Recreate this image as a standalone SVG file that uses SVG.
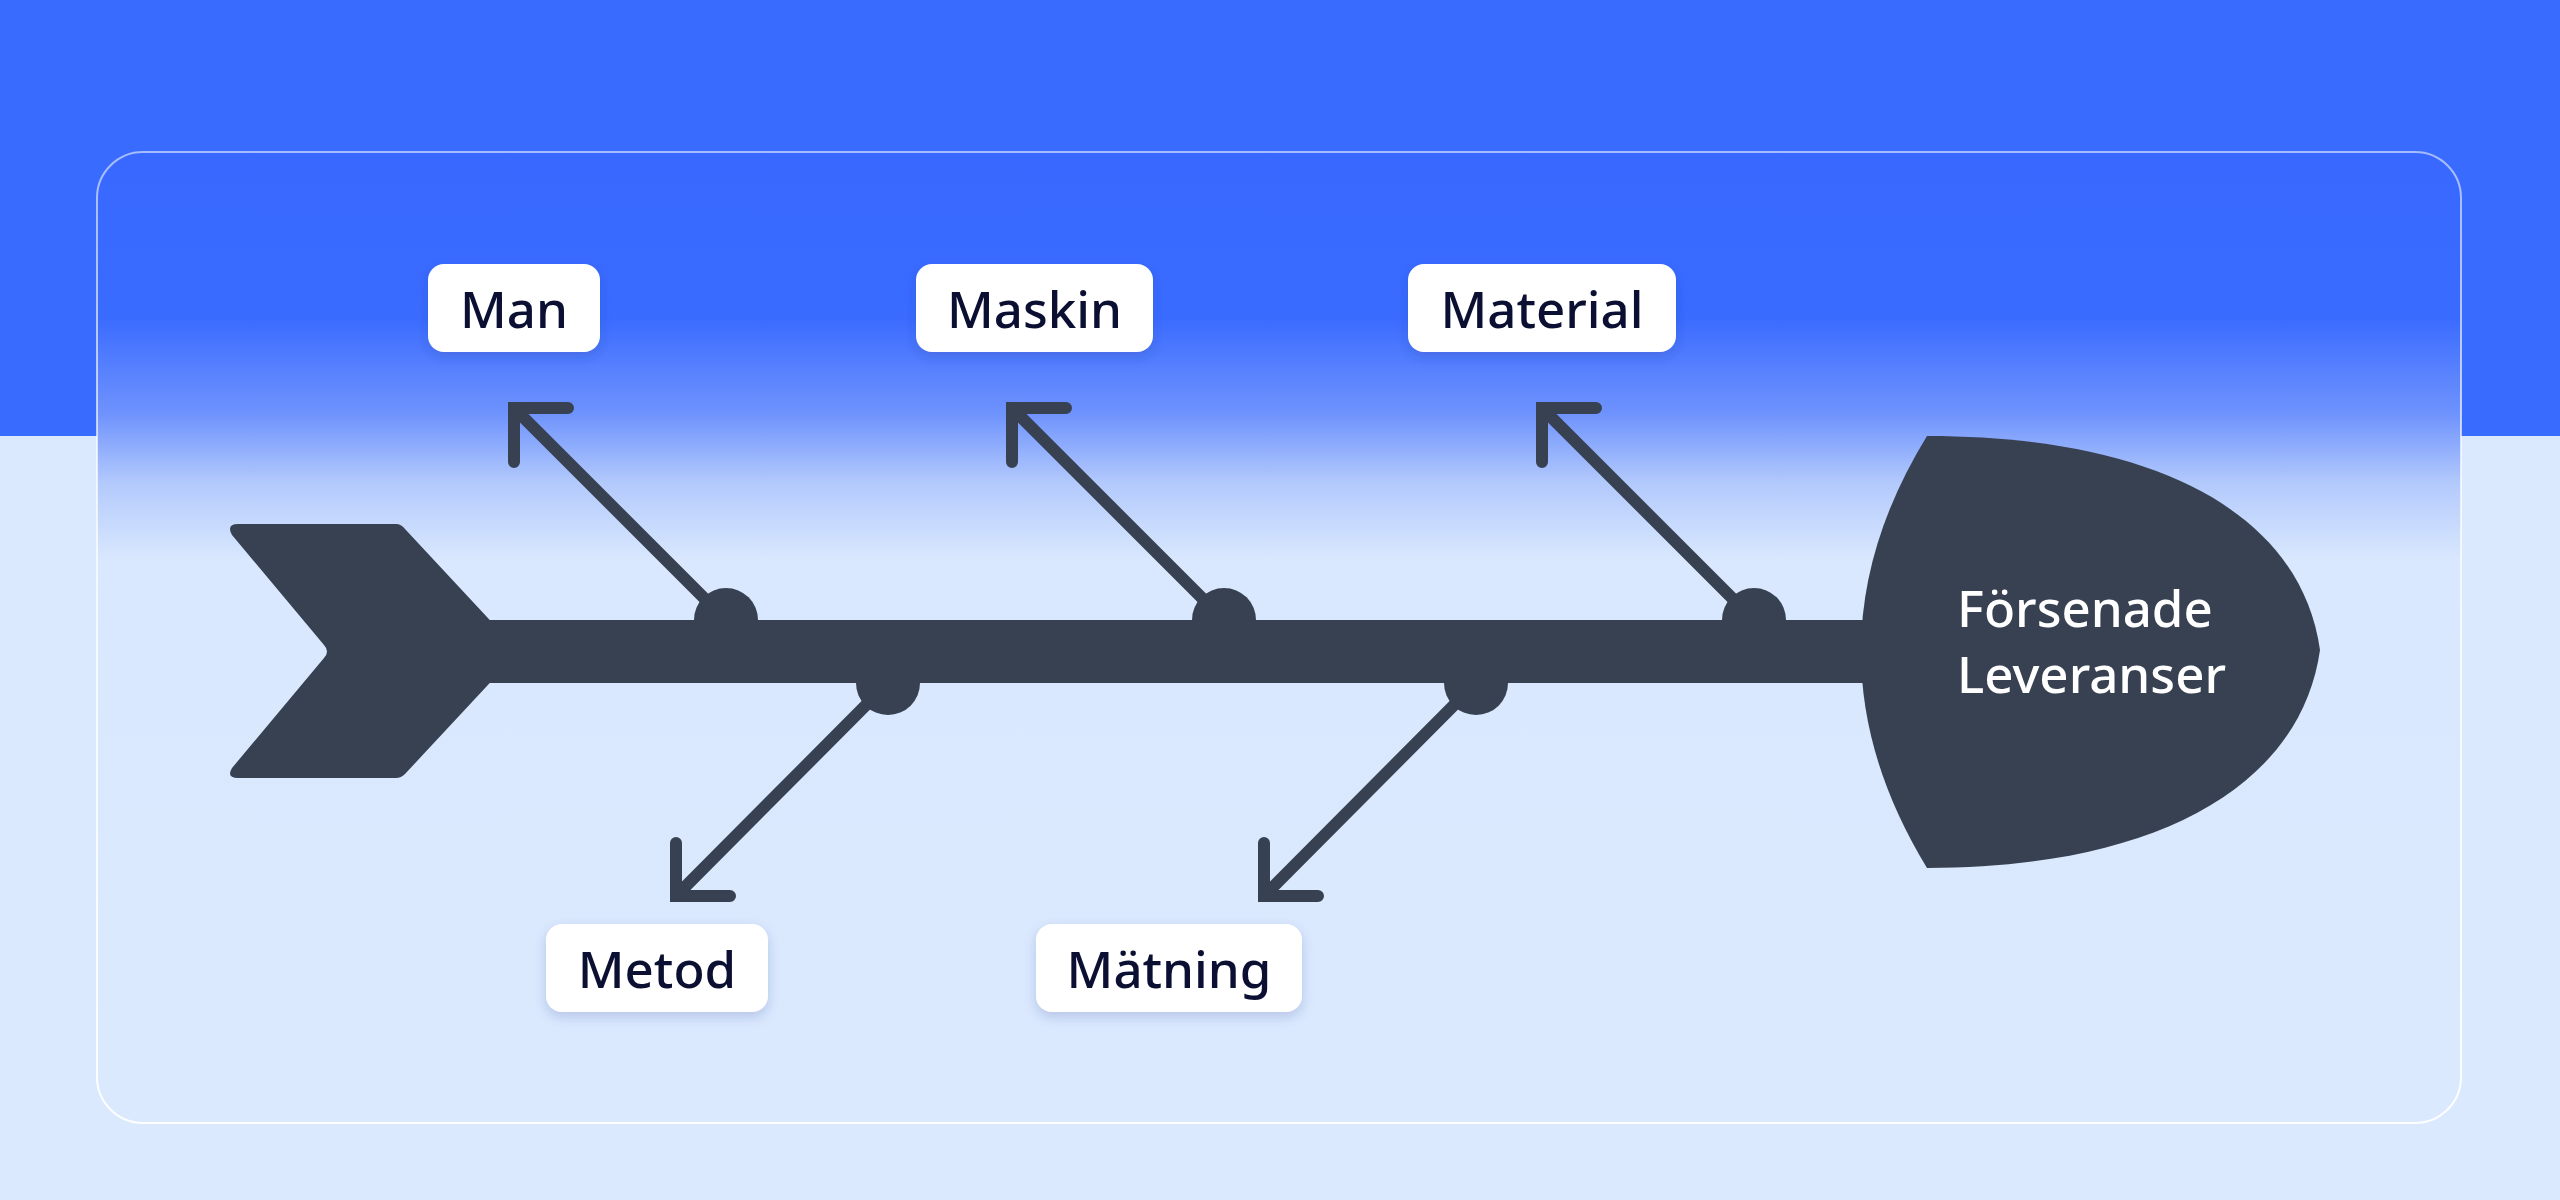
<svg xmlns="http://www.w3.org/2000/svg" width="2560" height="1200" viewBox="0 0 2560 1200">
  <defs>
    <linearGradient id="cardFill" x1="0" y1="152" x2="0" y2="1123" gradientUnits="userSpaceOnUse">
      <stop offset="0" stop-color="#3868ff"/>
      <stop offset="0.17" stop-color="#3a6bff"/>
      <stop offset="0.27" stop-color="#6f93fd"/>
      <stop offset="0.34" stop-color="#b2c9fc"/>
      <stop offset="0.42" stop-color="#d9e8fe"/>
      <stop offset="1" stop-color="#dbe9fe"/>
    </linearGradient>
    <linearGradient id="cardStroke" x1="0" y1="152" x2="0" y2="1123" gradientUnits="userSpaceOnUse">
      <stop offset="0" stop-color="#ffffff" stop-opacity="0.55"/>
      <stop offset="1" stop-color="#ffffff" stop-opacity="0.95"/>
    </linearGradient>
    <filter id="shadow" x="-20%" y="-30%" width="140%" height="170%">
      <feDropShadow dx="0" dy="5" stdDeviation="6" flood-color="#1e3a8a" flood-opacity="0.2"/>
    </filter>
    <style>
      .bone { fill: #374151; }
      .branch { fill: none; stroke: #374151; stroke-width: 12; stroke-linecap: round; stroke-linejoin: miter; }
      .box { fill: #ffffff; }
      .lbl { font-family: "Noto Sans", "Open Sans", sans-serif; font-size: 51px; font-weight: 500; fill: #0b1033; text-anchor: middle; }
      .head-text { font-family: "Noto Sans", "Open Sans", sans-serif; font-size: 51px; font-weight: 500; fill: #ffffff; }
    </style>
  </defs>

  <!-- background -->
  <rect x="0" y="0" width="2560" height="1200" fill="#dbe9fe"/>
  <rect x="0" y="0" width="2560" height="436" fill="#3a6bff"/>

  <!-- card -->
  <rect x="97" y="152" width="2364" height="971" rx="46" ry="46" fill="url(#cardFill)" stroke="url(#cardStroke)" stroke-width="2"/>

  <!-- spine, tail and head -->
  <g id="spine">
    <rect class="bone" x="485" y="620" width="1400" height="63"/>
    <path class="bone" d="M238,524 L396,524 Q401,524 405,529 L519,651.5 L405,774 Q401,778 396,778 L238,778 Q226,778 232,768 L324,658 Q330,651.5 324,645 L232,535 Q226,524 238,524 Z"/>
  </g>

  <g id="head">
    <path class="bone" d="M1927,436 C2150,436 2300,510 2320,650 C2300,790 2150,868 1927,868 Q1795,651 1927,436 Z"/>
    <text class="head-text" x="1957" y="627">Försenade</text>
    <text class="head-text" x="1957" y="693">Leveranser</text>
  </g>

  <!-- connectors (branches) -->
  <g id="connectors">
    <path class="branch" d="M568,408 L514,408 L514,462"/>
    <line class="branch" x1="514" y1="408" x2="726" y2="620"/>
    <circle class="bone" cx="726" cy="620" r="32"/>

    <path class="branch" d="M1066,408 L1012,408 L1012,462"/>
    <line class="branch" x1="1012" y1="408" x2="1224" y2="620"/>
    <circle class="bone" cx="1224" cy="620" r="32"/>

    <path class="branch" d="M1596,408 L1542,408 L1542,462"/>
    <line class="branch" x1="1542" y1="408" x2="1754" y2="620"/>
    <circle class="bone" cx="1754" cy="620" r="32"/>

    <path class="branch" d="M676,843 L676,896 L730,896"/>
    <line class="branch" x1="676" y1="896" x2="888" y2="683"/>
    <circle class="bone" cx="888" cy="683" r="32"/>

    <path class="branch" d="M1264,843 L1264,896 L1318,896"/>
    <line class="branch" x1="1264" y1="896" x2="1476" y2="683"/>
    <circle class="bone" cx="1476" cy="683" r="32"/>
  </g>

  <!-- category nodes -->
  <g id="node-man">
    <rect class="box" x="428" y="264" width="172" height="88" rx="16" filter="url(#shadow)"/>
    <text class="lbl" x="514" y="328">Man</text>
  </g>
  <g id="node-maskin">
    <rect class="box" x="916" y="264" width="237" height="88" rx="16" filter="url(#shadow)"/>
    <text class="lbl" x="1034.5" y="328">Maskin</text>
  </g>
  <g id="node-material">
    <rect class="box" x="1408" y="264" width="268" height="88" rx="16" filter="url(#shadow)"/>
    <text class="lbl" x="1542" y="328">Material</text>
  </g>
  <g id="node-metod">
    <rect class="box" x="546" y="924" width="222" height="88" rx="16" filter="url(#shadow)"/>
    <text class="lbl" x="657" y="988">Metod</text>
  </g>
  <g id="node-matning">
    <rect class="box" x="1036" y="924" width="266" height="88" rx="16" filter="url(#shadow)"/>
    <text class="lbl" x="1169" y="988">Mätning</text>
  </g>
</svg>
